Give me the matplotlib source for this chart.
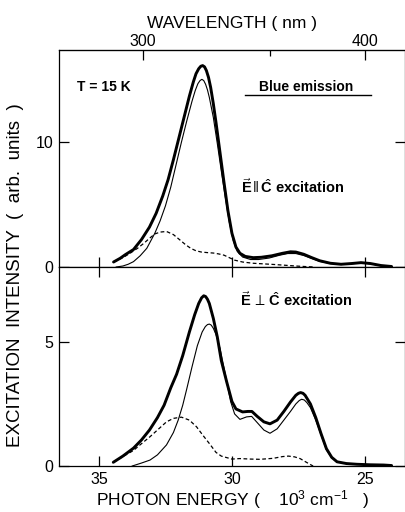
import matplotlib
matplotlib.use("Agg")
import matplotlib.pyplot as plt

plt.rcParams["font.family"] = ["Liberation Sans", "DejaVu Sans"]
plt.rcParams["mathtext.fontset"] = "custom"
plt.rcParams["mathtext.rm"] = "Liberation Sans"
plt.rcParams["mathtext.bf"] = "Liberation Sans:bold"
plt.rcParams["mathtext.it"] = "Liberation Sans:italic"

# --- E || c excitation (top panel), photon energy in 10^3 cm^-1 ---
par_total_e = [34.45, 34.2, 34.0, 33.7, 33.4, 33.1, 32.85, 32.6, 32.4, 32.2, 32.0, 31.8, 31.6, 31.45,
               31.35, 31.25, 31.17, 31.1, 31.03, 30.96, 30.88, 30.8, 30.7, 30.6, 30.45, 30.3, 30.15,
               30.0, 29.85, 29.7, 29.5, 29.2, 28.9, 28.5, 28.1, 27.8, 27.6, 27.3, 27.0, 26.7, 26.3,
               25.9, 25.5, 25.15, 24.8, 24.4, 24.0]
par_total_v = [0.4, 0.7, 1.0, 1.4, 2.2, 3.2, 4.3, 5.7, 7.0, 8.6, 10.3, 12.0, 13.7, 14.85,
               15.5, 15.9, 16.1, 16.15, 16.05, 15.75, 15.2, 14.4, 13.1, 11.6, 9.2, 6.8, 4.5,
               2.7, 1.6, 1.1, 0.85, 0.75, 0.78, 0.9, 1.1, 1.22, 1.2, 1.02, 0.75, 0.5, 0.3,
               0.22, 0.28, 0.35, 0.28, 0.12, 0.04]

par_main_e = [34.35, 34.1, 33.9, 33.7, 33.45, 33.2, 32.9, 32.7, 32.5, 32.3, 32.1, 31.9, 31.7, 31.5,
              31.38, 31.28, 31.2, 31.13, 31.06, 30.99, 30.92, 30.85, 30.7, 30.55, 30.4, 30.25, 30.1,
              29.95, 29.8, 29.6, 29.3, 29.0, 28.6, 28.2, 27.9, 27.6, 27.3, 27.0, 26.7, 26.3, 25.9,
              25.5, 25.15, 24.8, 24.4, 24.0]
par_main_v = [0.0, 0.08, 0.22, 0.43, 0.9, 1.5, 2.7, 3.7, 4.9, 6.4, 8.2, 10.0, 11.7, 13.3,
              14.15, 14.7, 14.95, 15.05, 14.95, 14.65, 14.2, 13.6, 12.0, 9.9, 7.7, 5.6, 3.6,
              2.1, 1.25, 0.8, 0.6, 0.6, 0.72, 0.95, 1.08, 1.08, 0.92, 0.68, 0.45, 0.28, 0.2,
              0.26, 0.33, 0.26, 0.1, 0.03]

par_uv_e = [34.45, 34.1, 33.83, 33.55, 33.3, 33.1, 32.9, 32.7, 32.46, 32.2, 31.95, 31.75, 31.55, 31.35,
            31.15, 30.9, 30.7, 30.5, 30.3, 30.1, 29.9, 29.6, 29.2, 28.8, 28.4, 28.0, 27.6, 27.2, 26.9]
par_uv_v = [0.4, 0.75, 1.1, 1.5, 1.92, 2.3, 2.65, 2.8, 2.85, 2.6, 2.16, 1.8, 1.5, 1.3,
            1.2, 1.15, 1.12, 1.05, 0.95, 0.75, 0.55, 0.4, 0.3, 0.25, 0.2, 0.14, 0.08, 0.03, 0.0]

# --- E _|_ c excitation (bottom panel) ---
perp_total_e = [34.46, 34.1, 33.7, 33.4, 33.1, 32.8, 32.55, 32.3, 32.08, 31.85, 31.6, 31.4, 31.25, 31.14,
                31.06, 30.99, 30.92, 30.85, 30.7, 30.55, 30.4, 30.2, 30.0, 29.85, 29.6, 29.4, 29.25,
                29.05, 28.8, 28.57, 28.3, 28.05, 27.8, 27.6, 27.5, 27.42, 27.33, 27.25, 27.05, 26.85,
                26.65, 26.45, 26.25, 26.05, 25.7, 25.3, 24.8, 24.3, 24.0]
perp_total_v = [0.15, 0.4, 0.72, 1.05, 1.45, 1.95, 2.45, 3.15, 3.7, 4.45, 5.4, 6.1, 6.55, 6.78,
                6.86, 6.83, 6.72, 6.55, 5.95, 5.2, 4.25, 3.4, 2.6, 2.3, 2.18, 2.2, 2.2,
                2.0, 1.78, 1.7, 1.85, 2.2, 2.58, 2.85, 2.93, 2.96, 2.93, 2.85, 2.5, 1.95,
                1.3, 0.7, 0.35, 0.17, 0.1, 0.07, 0.05, 0.04, 0.02]

perp_main_e = [33.75, 33.4, 33.08, 32.8, 32.46, 32.2, 32.02, 31.85, 31.7, 31.5, 31.3, 31.12, 31.0, 30.92,
               30.85, 30.78, 30.7, 30.6, 30.45, 30.25, 30.05, 29.9, 29.7, 29.45, 29.26, 29.05, 28.8,
               28.57, 28.3, 28.05, 27.8, 27.6, 27.47, 27.38, 27.28, 27.18, 27.05, 26.85, 26.65, 26.45,
               26.25, 26.05, 25.7, 25.3, 24.8, 24.3, 24.0]
perp_main_v = [0.0, 0.12, 0.24, 0.45, 0.85, 1.35, 1.85, 2.45, 3.1, 4.0, 4.85, 5.4, 5.62, 5.7,
               5.72, 5.68, 5.55, 5.3, 4.75, 3.7, 2.6, 2.1, 1.88, 1.98, 2.0, 1.75, 1.45,
               1.32, 1.5, 1.85, 2.2, 2.5, 2.64, 2.69, 2.66, 2.55, 2.35, 1.85, 1.25, 0.65,
               0.33, 0.17, 0.1, 0.07, 0.05, 0.04, 0.02]

perp_uv_e = [34.46, 34.1, 33.71, 33.4, 33.08, 32.75, 32.46, 32.2, 31.9, 31.6, 31.33, 31.1, 30.83,
             30.6, 30.4, 30.0, 29.7, 29.3, 28.95, 28.45, 28.1, 27.88, 27.65, 27.44, 27.25, 27.07, 26.95]
perp_uv_v = [0.15, 0.38, 0.62, 0.9, 1.18, 1.5, 1.78, 1.92, 1.97, 1.85, 1.58, 1.25, 0.88,
             0.55, 0.4, 0.28, 0.3, 0.28, 0.27, 0.31, 0.38, 0.4, 0.37, 0.3, 0.18, 0.07, 0.0]

wl_major = [300, 400]
wl_minor = [350]

fig = plt.figure(figsize=(4.06, 5.12), dpi=100)
ax1 = fig.add_axes([0.1453, 0.4785, 0.852, 0.4238])
ax2 = fig.add_axes([0.1453, 0.0898, 0.852, 0.3887])

thick = dict(color="black", lw=2.1, solid_capstyle="round", solid_joinstyle="round")
thin = dict(color="black", lw=0.8, solid_joinstyle="round")
dash = dict(color="black", lw=0.9, ls=(0, (3, 2)))

ax1.plot(par_total_e, par_total_v, **thick)
ax1.plot(par_main_e, par_main_v, **thin)
ax1.plot(par_uv_e, par_uv_v, **dash)

ax2.plot(perp_total_e, perp_total_v, **thick)
ax2.plot(perp_main_e, perp_main_v, **thin)
ax2.plot(perp_uv_e, perp_uv_v, **dash)

for ax in (ax1, ax2):
    ax.set_xlim(36.5, 23.5)
    ax.set_xticks([35, 30, 25])
    ax.tick_params(direction="in", length=7, width=0.9, labelsize=11.5,
                   top=True, right=True, pad=4)
    for s in ax.spines.values():
        s.set_linewidth(0.9)

ax1.set_ylim(0, 17.4)
ax1.set_yticks([0, 10])
ax1.tick_params(labelbottom=False, top=False)
ax2.set_ylim(0, 8.02)
ax2.set_yticks([0, 5])
ax2.set_xticklabels(["35", "30", "25"])
ax2.set_xlabel("PHOTON ENERGY (    10$^3$ cm$^{-1}$   )", fontsize=12.5, labelpad=1)

# wavelength scale on top
sec = ax1.secondary_xaxis("top", functions=(lambda e: 1e4 / e, lambda w: 1e4 / w))
sec.set_xticks(wl_major)
sec.set_xticks(wl_minor, minor=True)
sec.tick_params(direction="in", length=7, width=0.9, labelsize=11.5, pad=1)
sec.tick_params(which="minor", direction="in", length=4, width=0.9)
sec.set_xlabel("WAVELENGTH ( nm )", fontsize=12.5, labelpad=4)

fig.text(0.037, 0.462, "EXCITATION  INTENSITY  (  arb.  units  )", rotation=90,
         ha="center", va="center", fontsize=13.5)

ax1.text(34.83, 14.4, "T = 15 K", fontsize=10, fontweight="bold", ha="center", va="center")
ax1.text(27.2, 14.4, "Blue emission", fontsize=10, fontweight="bold", ha="center", va="center")
ax1.plot([29.51, 24.77], [13.76, 13.76], color="black", lw=1.0)
ax1.text(29.66, 6.42, r"$\vec{\mathbf{E}}\,\|\,\hat{\mathbf{C}}$ excitation",
         fontsize=10.5, fontweight="bold", ha="left", va="center")
ax2.text(29.7, 6.69, r"$\vec{\mathbf{E}}\,\perp\,\hat{\mathbf{C}}$ excitation",
         fontsize=10.5, fontweight="bold", ha="left", va="center")

fig.savefig("out.png", dpi=100)
